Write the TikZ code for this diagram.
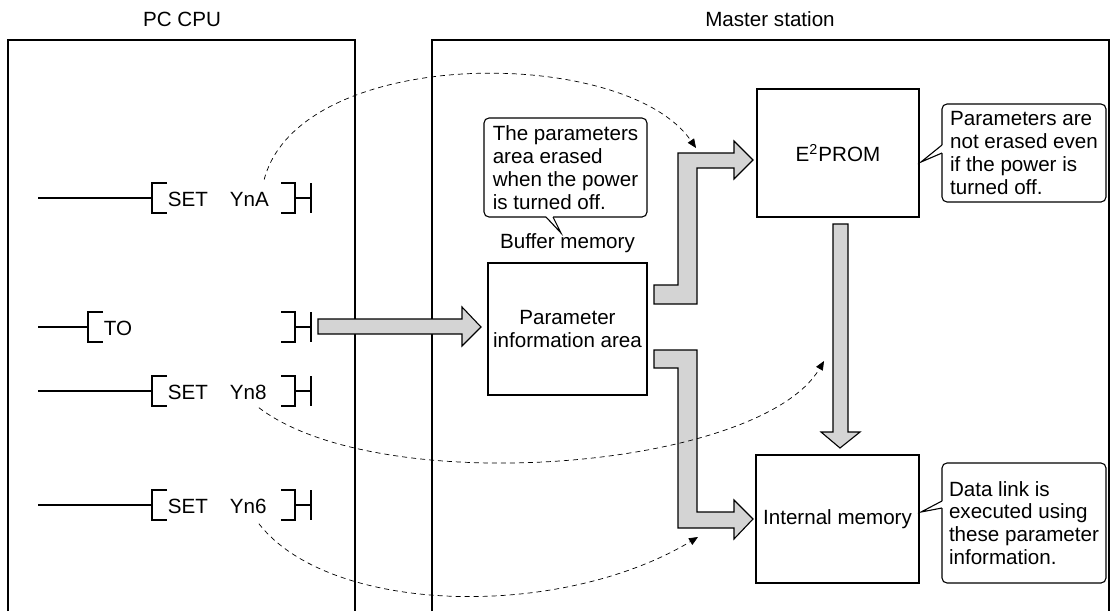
\documentclass[tikz,border=0pt]{standalone}
\usepackage{fontspec}
\setmainfont{Liberation Sans}
\usetikzlibrary{arrows.meta,positioning}
\definecolor{fatgray}{RGB}{212,212,212}

\begin{document}
\begin{tikzpicture}[x=0.5pt, y=-0.5pt,
    font=\fontsize{10.3}{11.4}\selectfont,
    frame/.style={draw, line width=0.55pt},
    memo/.style={draw, line width=0.55pt, fill=white, align=center, inner sep=1pt},
    note/.style={draw, line width=0.55pt, fill=white, rounded corners=2.5pt, align=left, inner sep=1pt},
    rung/.style={line width=0.6pt},
    bar/.style={line width=0.85pt},
    instr/.style={inner sep=1pt},
    fat/.style={draw, line width=0.55pt, fill=fatgray, line join=miter},
    sig/.style={-{Triangle[length=4.5pt,width=3.8pt]}, dash pattern=on 2.5pt off 2pt, line width=0.35pt}]

    \useasboundingbox (0,0) rectangle (1113,611);

    % frames
    \node (cpulbl) at (182,19) {PC CPU};
    \node (mslbl) at (770,19) {Master station};
    \draw[frame] (8,611) |- (355,40) -- (355,611);
    \draw[frame] (432,611) |- (1109,40) -- (1109,611);

    % ladder: SET YnA
    \node[instr] (setA) at (188,199) {SET};
    \node[instr, right=8.5pt of setA] (yna) {YnA};
    \draw[rung] (38,198) -- (152,198);
    \draw[rung] (167,183) -- (152,183) -- (152,213) -- (167,213);
    \draw[rung] (281,183) -- (295,183) -- (295,213) -- (281,213);
    \draw[rung] (295,198) -- (311,198);
    \draw[bar] (311,183) -- (311,213);

    % ladder: TO
    \node[instr] (to) at (118,328) {TO};
    \draw[rung] (38,327) -- (88,327);
    \draw[rung] (103,312) -- (88,312) -- (88,342) -- (103,342);
    \draw[rung] (281,312) -- (295,312) -- (295,342) -- (281,342);
    \draw[rung] (295,327) -- (311,327);
    \draw[bar] (311,312) -- (311,342);

    % ladder: SET Yn8
    \node[instr] (set8) at (188,392) {SET};
    \node[instr, right=8.5pt of set8] (yn8) {Yn8};
    \draw[rung] (38,391) -- (152,391);
    \draw[rung] (167,376) -- (152,376) -- (152,406) -- (167,406);
    \draw[rung] (281,376) -- (295,376) -- (295,406) -- (281,406);
    \draw[rung] (295,391) -- (311,391);
    \draw[bar] (311,376) -- (311,406);

    % ladder: SET Yn6
    \node[instr] (set6) at (188,506) {SET};
    \node[instr, right=8.5pt of set6] (yn6) {Yn6};
    \draw[rung] (38,505) -- (152,505);
    \draw[rung] (167,490) -- (152,490) -- (152,520) -- (167,520);
    \draw[rung] (281,490) -- (295,490) -- (295,520) -- (281,520);
    \draw[rung] (295,505) -- (311,505);
    \draw[bar] (311,490) -- (311,520);

    % master station memories
    \node[memo, minimum width=79.5pt, minimum height=66pt] (buf) at (567.5,329) {Parameter\\information area};
    \node[above=1.5pt of buf] (buflbl) {Buffer memory};
    \node[memo, minimum width=81pt, minimum height=64pt] (eep) at (838,153) {E\textsuperscript{2}PROM};
    \node[memo, minimum width=81.5pt, minimum height=64pt] (intm) at (837.5,519) {Internal memory};

    % fat arrows
    \draw[fat] (318,319) -- (462,319) -- (462,307) -- (481,327) -- (462,346) -- (462,334) -- (318,334) -- cycle;
    \draw[fat] (654,285) -- (678,285) -- (678,153) -- (734,153) -- (734,141) -- (753,160)
               -- (734,179) -- (734,168) -- (697,168) -- (697,304) -- (654,304) -- cycle;
    \draw[fat] (654,350) -- (697,350) -- (697,512) -- (734,512) -- (734,500) -- (753,519)
               -- (734,539) -- (734,528) -- (678,528) -- (678,368) -- (654,368) -- cycle;
    \draw[fat] (833,224) -- (848,224) -- (848,432) -- (860,432) -- (840,448) -- (821,432) -- (833,432) -- cycle;

    % notes
    \node[note, minimum width=81.5pt, minimum height=49.5pt] (note1) at (565.5,167.5)
        {The parameters\\area erased\\when the power\\is turned off.};
    \fill[white] (546,214) -- (546,217) -- (561,233) -- (553,217) -- (553,214) -- cycle;
    \draw[line width=0.55pt] (546,217) -- (561,233) -- (553,217);

    \node[note, minimum width=82pt, minimum height=49pt] (note2) at (1024,153)
        {Parameters are\\not erased even\\if the power is\\turned off.};
    \fill[white] (945,145) -- (942,145) -- (921,162) -- (942,153) -- (945,153) -- cycle;
    \draw[line width=0.55pt] (942,145) -- (921,162) -- (942,153);

    \node[note, minimum width=82pt, minimum height=60pt] (note3) at (1024,523)
        {Data link is\\executed using\\these parameter\\information.};
    \fill[white] (945,501) -- (942,501) -- (921,512) -- (942,508) -- (945,508) -- cycle;
    \draw[line width=0.55pt] (942,501) -- (921,512) -- (942,508);

    % signal paths
    \coordinate (eepin) at (696,148);
    \coordinate (eepout) at (824,361);
    \coordinate (intin) at (698,537);
    \draw[sig] ([xshift=-3.5pt,yshift=5pt]yna.north east) .. controls (300,45) and (625,45) .. (eepin);
    \draw[sig] ([xshift=-5pt,yshift=-3pt]yn8.south east) .. controls (380,500) and (760,470) .. (eepout);
    \draw[sig] ([xshift=-5pt,yshift=-4pt]yn6.south east) .. controls (330,615) and (560,620) .. (intin);
\end{tikzpicture}
\end{document}
